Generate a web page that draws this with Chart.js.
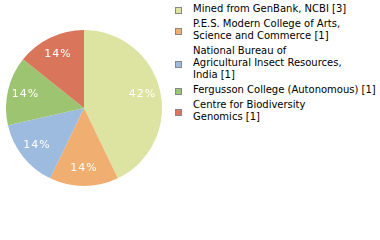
<!DOCTYPE html>
<html>
<head>
<meta charset="utf-8">
<script src="https://cdn.jsdelivr.net/npm/chart.js@4/dist/chart.umd.min.js"></script>
<style>
html, body { margin:0; padding:0; background:#fff; }
#wrap { position:relative; width:380px; height:240px; overflow:hidden; }
#pie { position:absolute; left:6px; top:30px; width:156px; height:156px; }
#legende { position:absolute; left:175px; top:3px; width:205px; font-family:"DejaVu Sans", sans-serif; font-size:10px; line-height:12px; color:#000; }
.item { display:flex; align-items:center; margin-bottom:3px; }
.carre { width:5px; height:5px; border:1px solid #888; flex:none; margin-right:11px; margin-top:2px; }
</style>
</head>
<body>
<div id="wrap">
  <div id="pie"><canvas id="chart"></canvas></div>
  <div id="legende"></div>
</div>
<script>
// sources des séquences (chaque libellé = lignes affichées dans la légende)
const categories = [
    ["Mined from GenBank, NCBI [3]"],
    ["P.E.S. Modern College of Arts,", "Science and Commerce [1]"],
    ["National Bureau of", "Agricultural Insect Resources,", "India [1]"],
    ["Fergusson College (Autonomous) [1]"],
    ["Centre for Biodiversity", "Genomics [1]"]
];
const valeurs = [3, 1, 1, 1, 1];
const couleurs = ["#dde3a0", "#f0ae70", "#9dbadf", "#9dc470", "#d9755a"];

// légende html
const leg = document.getElementById('legende');
for(var i=0; i<categories.length; i++){
    var it = document.createElement('div');
    it.className = 'item';
    var c = document.createElement('div');
    c.className = 'carre';
    c.style.background = couleurs[i];
    var t = document.createElement('div');
    t.innerHTML = categories[i].join('<br/>');
    it.appendChild(c);
    it.appendChild(t);
    leg.appendChild(it);
}

// pourcentages dans les parts
const pourcents = {
    id: 'pourcents',
    afterDatasetsDraw(chart){
        const ctx = chart.ctx;
        const total = valeurs.reduce((a,b)=>a+b, 0);
        const meta = chart.getDatasetMeta(0);
        ctx.save();
        ctx.fillStyle = '#fff';
        ctx.font = '11px "DejaVu Sans", sans-serif';
        ctx.letterSpacing = '1px';
        ctx.textAlign = 'center';
        ctx.textBaseline = 'middle';
        meta.data.forEach((arc, i) => {
            const p = arc.getProps(['x','y','startAngle','endAngle','outerRadius']);
            const a = (p.startAngle + p.endAngle)/2;
            const r = p.outerRadius*0.77;
            const txt = Math.floor(valeurs[i]/total*100) + '%';
            ctx.fillText(txt, p.x + Math.cos(a)*r, p.y + Math.sin(a)*r);
        });
        ctx.restore();
    }
};

var ctx = document.getElementById('chart').getContext('2d');
var monGraph = new Chart(ctx, {
    type: 'pie'
    , data: {
        labels: categories.map(l => l.join(' ')),
        datasets: [{
            data: valeurs,
            backgroundColor: couleurs,
            borderWidth: 0
        }]
    }
    , options: {
        responsive: true
        ,maintainAspectRatio: false
        ,animation: false
        ,plugins: { legend: { display: false }, tooltip: { enabled: false } }
        ,layout: { padding: 0 }
    }
    , plugins: [pourcents]
});
</script>
</body>
</html>
